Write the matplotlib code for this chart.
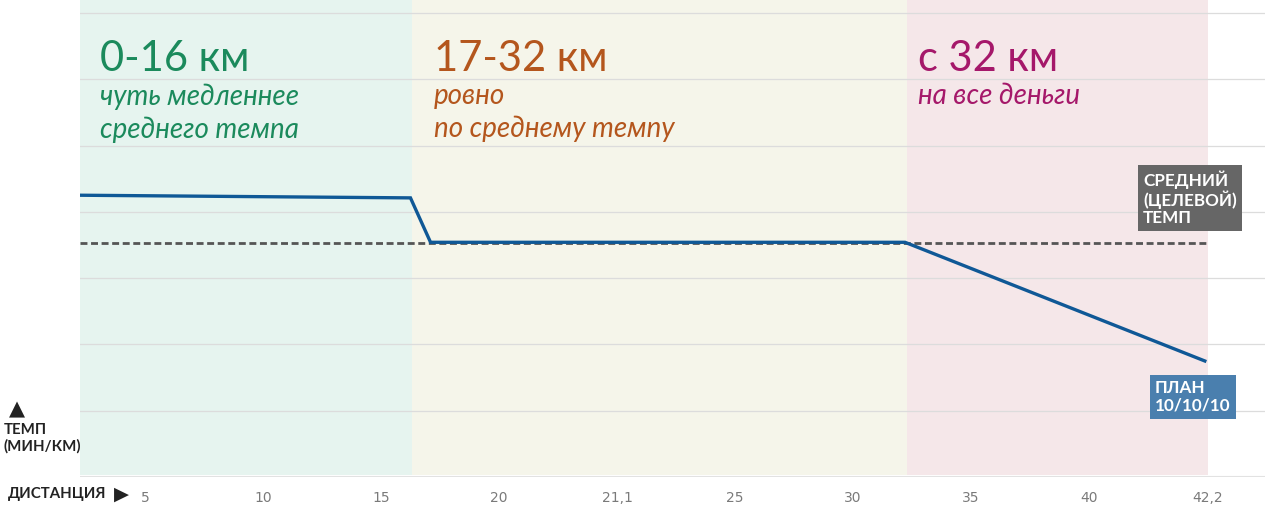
import matplotlib
matplotlib.use("Agg")
import matplotlib.pyplot as plt

# Tick labels (distance, km) - evenly spaced positions on the axis
dist_labels = ["5", "10", "15", "20", "21,1", "25", "30", "35", "40", "42,2"]

# plan line: positions in tick units, pace in grid units (bottom = 0)
plan_x = [-0.55, 2.25, 2.42, 6.44, 8.98]
plan_y = [4.25, 4.21, 3.54, 3.54, 1.75]
target_pace = 3.53

# zones: start, end (tick units)
zone_start = [-0.55, 2.26, 6.46]
zone_end = [2.26, 6.46, 9.01]
zone_bg = ["#e6f4ef", "#f5f5ea", "#f5e7e9"]
zone_col = ["#1b8a5c", "#b4561d", "#a5186a"]
zone_title = ["0-16 км", "17-32 км", "с 32 км"]
zone_sub = ["чуть медленнее\nсреднего темпа", "ровно\nпо среднему темпу", "на все деньги"]

fig = plt.figure(figsize=(12.8, 5.17), dpi=100)
ax = fig.add_axes([80/1280, 1-477/517, 1185/1280, 477/517])
ax.set_xlim(-0.55, 9.49)
ax.set_ylim(0, 477/66.3)

for i in range(3):
    ax.axvspan(zone_start[i], zone_end[i], ymin=0.004, ymax=1, color=zone_bg[i], lw=0, zorder=0)

for g in range(1, 8):
    ax.axhline(g, color="#dcdcdc", lw=0.9, zorder=1)
ax.axhline(0, color="#e2e2e2", lw=1.5, zorder=1)

ax.plot([-0.55, 9.01], [target_pace, target_pace], color="#555555", lw=2,
        dashes=(2.5, 1.3), zorder=2)
ax.plot(plan_x, plan_y, color="#0f5896", lw=2.4, solid_joinstyle="miter", zorder=3)

for s in ax.spines.values():
    s.set_visible(False)
ax.set_yticks([])
ax.set_xticks(range(len(dist_labels)))
ax.set_xticklabels(dist_labels, color="#7a7a7a", fontsize=10,
                   family=["Liberation Sans Narrow", "DejaVu Sans"])
ax.tick_params(axis="x", length=0, pad=10)

# zone headings
for i in range(3):
    x0 = zone_start[i] + (0.17 if i == 0 else 0.19 if i == 1 else 0.09)
    ax.text(x0, 6.13, zone_title[i], color=zone_col[i], fontsize=30,
            family="Lato", va="baseline", ha="left")
    ax.text(x0, 5.94, zone_sub[i], color=zone_col[i], fontsize=20,
            family="Lato", style="italic", va="top", ha="left",
            linespacing=1.3)

# annotation boxes
fig.text(1143/1280, 1-198/517, "СРЕДНИЙ\n(ЦЕЛЕВОЙ)\nТЕМП", color="white",
         fontsize=12.3, fontweight="bold", family="Lato", va="center", ha="left",
         linespacing=1.08,
         bbox=dict(boxstyle="square,pad=0.3", fc="#666666", ec="none"))
fig.text(1155/1280, 1-397/517, "ПЛАН\n10/10/10", color="white",
         fontsize=12.3, fontweight="bold", family="Lato", va="center", ha="left",
         linespacing=1.08,
         bbox=dict(boxstyle="square,pad=0.3", fc="#4a7fae", ec="none"))

# axis captions
fig.text(17/1280, 1-409/517, "▲", fontsize=15, color="#222222", ha="center", va="center",
         family="DejaVu Sans")
fig.text(4/1280, 1-438/517, "ТЕМП\n(МИН/КМ)", fontsize=10.8, fontweight="bold",
         color="#222222", family="Lato", ha="left", va="center", linespacing=1.15)
fig.text(8/1280, 1-494/517, "ДИСТАНЦИЯ", fontsize=10.8, fontweight="bold",
         color="#222222", family="Lato", ha="left", va="center")
fig.text(121/1280, 1-494/517, "▶", fontsize=14, color="#222222", ha="center", va="center",
         family="DejaVu Sans")

fig.savefig("out.png", dpi=100)
